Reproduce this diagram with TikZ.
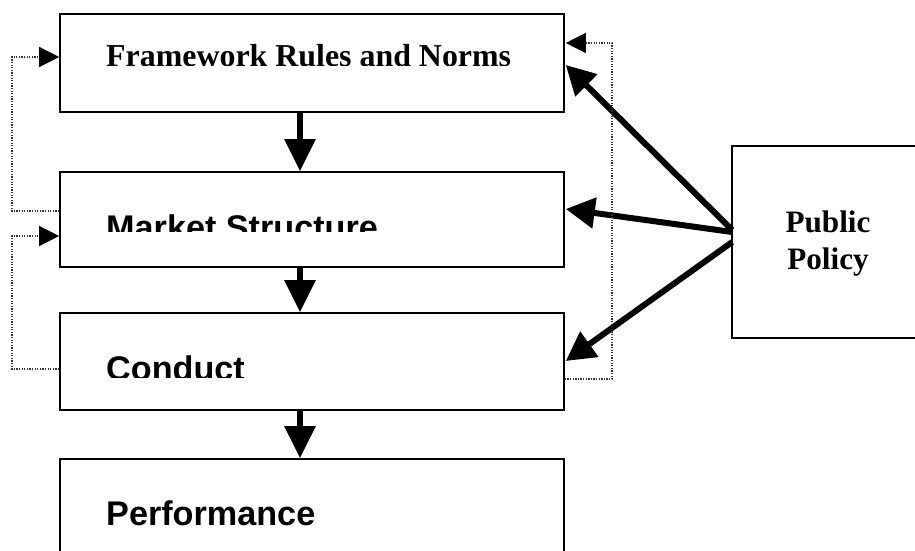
\documentclass[tikz,border=0pt]{standalone}
\usepackage{fontspec}
\setmainfont{Liberation Serif}
\newfontfamily\arialfont{Liberation Sans}
\usetikzlibrary{arrows.meta,calc}
\tikzset{
  boxnode/.style={draw, line width=1.6pt, rectangle, inner sep=0pt},
  seriflabel/.style={inner sep=0pt, anchor=base west, font=\bfseries\fontsize{31.9}{38}\selectfont},
  sanslabel/.style={inner sep=0pt, anchor=base west, font=\arialfont\bfseries\fontsize{34.2}{40}\selectfont},
  pplabel/.style={inner sep=0pt, anchor=base, font=\bfseries\fontsize{31.2}{37}\selectfont},
  flowarrow/.style={line width=6pt, -{Triangle[length=32pt,width=30pt]}},
  policyarrow/.style={line width=6pt, -{Triangle[length=29pt,width=30pt]}},
  feedback/.style={line width=1.3pt, black!80, dash pattern=on 1.3pt off 1.3pt, -{Triangle[length=20pt,width=20pt,color=black]}}
}
\begin{document}
\begin{tikzpicture}[x=1pt,y=-1pt]
\clip (0,0) rectangle (915,551);
\useasboundingbox (0,0) rectangle (915,551);
\fill[white] (0,0) rectangle (915,551);

% boxes
\node[boxnode, minimum width=504pt, minimum height=98pt] (b1) at (312,63) {};
\node[boxnode, minimum width=504pt, minimum height=95pt] (b2) at (312,219.5) {};
\node[boxnode, minimum width=504pt, minimum height=97pt] (b3) at (312,361.5) {};
\node[boxnode, minimum width=504pt, minimum height=100pt] (b4) at (312,509) {};
\node[boxnode, minimum width=192pt, minimum height=192pt] (pp) at (828,242) {};

% labels (clipped like the reference)
\begin{scope}
\clip (62,16) rectangle (562,66);
\node[seriflabel] (t1) at (106,66.3) {Framework Rules and Norms};
\end{scope}
\begin{scope}
\clip (62,174) rectangle (562,231);
\node[sanslabel] (t2) at (106,239) {Market Structure};
\end{scope}
\begin{scope}
\clip (62,315) rectangle (562,377);
\node[sanslabel] (t3) at (106,380.5) {Conduct};
\end{scope}
\node[sanslabel] (t4) at (106,525) {Performance};
\node[pplabel] (p1) at (828,232) {Public};
\node[pplabel] (p2) at (828,269) {Policy};

% main flow arrows
\coordinate (cx) at (300,0);
\draw[flowarrow] (b1.south -| cx) -- (b2.north -| cx);
\draw[flowarrow] (b2.south -| cx) -- (b3.north -| cx);
\draw[flowarrow] (b3.south -| cx) -- (b4.north -| cx);

% public policy arrows
\draw[policyarrow] ($(pp.west)+(1,-12)$) -- ($(b1.east)+(1,2)$);
\draw[policyarrow] ($(pp.west)+(1,-10)$) -- ($(b2.east)+(1,-10.5)$);
\draw[policyarrow] ($(pp.west)+(1,0)$) -- ($(b3.east)+(1,-0.5)$);

% dotted feedback loops
\coordinate (l1a) at (12,211);
\coordinate (l1b) at (12,57);
\draw[feedback] ($(b2.west)+(0,-8.5)$) -- (l1a) -- (l1b) -- ($(b1.west)+(0,-6)$);
\coordinate (l2a) at (12,369);
\coordinate (l2b) at (12,236);
\draw[feedback] ($(b3.west)+(0,7.5)$) -- (l2a) -- (l2b) -- ($(b2.west)+(0,16.5)$);
\coordinate (r1a) at (612,379);
\coordinate (r1b) at (612,43);
\draw[feedback] ($(b3.east)+(0,17.5)$) -- (r1a) -- (r1b) -- ($(b1.east)+(1,-20)$);
\end{tikzpicture}
\end{document}
